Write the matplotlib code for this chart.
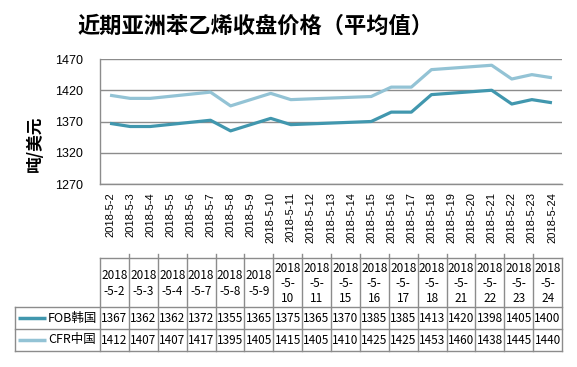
import matplotlib
matplotlib.use("Agg")
import matplotlib.pyplot as plt
import matplotlib.dates as mdates
import pandas as pd
import numpy as np

# ---- data ----
trade_dates = ["2018-5-2", "2018-5-3", "2018-5-4", "2018-5-7", "2018-5-8", "2018-5-9",
               "2018-5-10", "2018-5-11", "2018-5-15", "2018-5-16", "2018-5-17", "2018-5-18",
               "2018-5-21", "2018-5-22", "2018-5-23", "2018-5-24"]
fob_korea = [1367, 1362, 1362, 1372, 1355, 1365, 1375, 1365, 1370, 1385, 1385, 1413, 1420, 1398, 1405, 1400]
cfr_china = [1412, 1407, 1407, 1417, 1395, 1405, 1415, 1405, 1410, 1425, 1425, 1453, 1460, 1438, 1445, 1440]
series_names = ["FOB韩国", "CFR中国"]
y_ticks = [1270, 1320, 1370, 1420, 1470]
title = "近期亚洲苯乙烯收盘价格（平均值）"
y_label = "吨/美元"

colors = ["#4197ae", "#93c3d5"]

plt.rcParams['font.family'] = ['Liberation Sans', 'Noto Sans CJK SC', 'DejaVu Sans']

W, H = 577, 367
fig = plt.figure(figsize=(W / 100, H / 100), dpi=100)

px_left, px_right, px_top, px_bottom = 100, 562, 59, 184
ax = fig.add_axes([px_left / W, 1 - px_bottom / H, (px_right - px_left) / W, (px_bottom - px_top) / H])

dates = pd.to_datetime(trade_dates, format="%Y-%m-%d")
all_days = pd.date_range(dates[0], dates[-1], freq="D")

for vals, c in zip([fob_korea, cfr_china], colors):
    ax.plot(dates, vals, color=c, lw=2.3, solid_capstyle="butt", zorder=3)

ax.set_xlim(all_days[0] - pd.Timedelta(hours=12), all_days[-1] + pd.Timedelta(hours=12))
ax.set_ylim(y_ticks[0], y_ticks[-1])
ax.set_yticks(y_ticks)
ax.set_yticklabels([str(v) for v in y_ticks], fontsize=9)
ax.set_xticks(all_days)
ax.set_xticklabels([f"{d.year}-{d.month}-{d.day}" for d in all_days], rotation=90, fontsize=8)
ax.tick_params(axis="both", length=0, pad=6)
ax.tick_params(axis="y", pad=12)
ax.grid(axis="y", color="#8c8c8c", lw=1)
for s in ["top", "right"]:
    ax.spines[s].set_visible(False)
for s in ["left", "bottom"]:
    ax.spines[s].set_color("#8c8c8c")
    ax.spines[s].set_linewidth(1)

fig.text(256 / W, 1 - 26 / H, title, ha="center", va="center", fontsize=16,
         fontweight="bold", family=["Noto Sans CJK SC"])
fig.text(35 / W, 1 - 144 / H, y_label, ha="center", va="center", rotation=90,
         fontsize=12, fontweight="bold", family=["Noto Sans CJK SC"])

# ---- table ----
tx = fig.add_axes([0, 0, 1, 1])
tx.set_xlim(0, W)
tx.set_ylim(H, 0)
tx.axis("off")
tbl_left, tbl_x0, tbl_x1 = 15, px_left, px_right
row_y = [258, 307, 329, 351]
n = len(trade_dates)
cw = (tbl_x1 - tbl_x0) / n
lc = "#8c8c8c"
# horizontal lines
tx.plot([tbl_x0, tbl_x1], [row_y[0], row_y[0]], color=lc, lw=1)
for y in row_y[1:]:
    tx.plot([tbl_left, tbl_x1], [y, y], color=lc, lw=1)
# vertical lines
tx.plot([tbl_left, tbl_left], [row_y[1], row_y[3]], color=lc, lw=1)
for i in range(n + 1):
    x = tbl_x0 + i * cw
    tx.plot([x, x], [row_y[0] - (4 if 0 < i < n else 0), row_y[3]], color=lc, lw=1)

tfont = ["Noto Sans CJK SC", "DejaVu Sans"]
for i, d in enumerate(trade_dates):
    xc = tbl_x0 + (i + 0.5) * cw
    y_, m_, dd = d.split("-")
    if len(dd) == 1:
        lab = f"{y_}\n-{m_}-{dd}"
    else:
        lab = f"{y_}\n-{m_}-\n{dd}"
    tx.text(xc, (row_y[0] + row_y[1]) / 2 + 1, lab, ha="center", va="center",
            fontsize=8.5, family=tfont, linespacing=1.25)
    for r, vals in enumerate([fob_korea, cfr_china]):
        tx.text(xc, (row_y[r + 1] + row_y[r + 2]) / 2, str(vals[i]), ha="center",
                va="center", fontsize=8.5, family=tfont)

for r, (name, c) in enumerate(zip(series_names, colors)):
    yc = (row_y[r + 1] + row_y[r + 2]) / 2
    tx.plot([18, 46], [yc, yc], color=c, lw=2.5, solid_capstyle="butt")
    tx.text(48, yc, name, ha="left", va="center", fontsize=9, family=tfont)

fig.savefig("out.png", dpi=100)
